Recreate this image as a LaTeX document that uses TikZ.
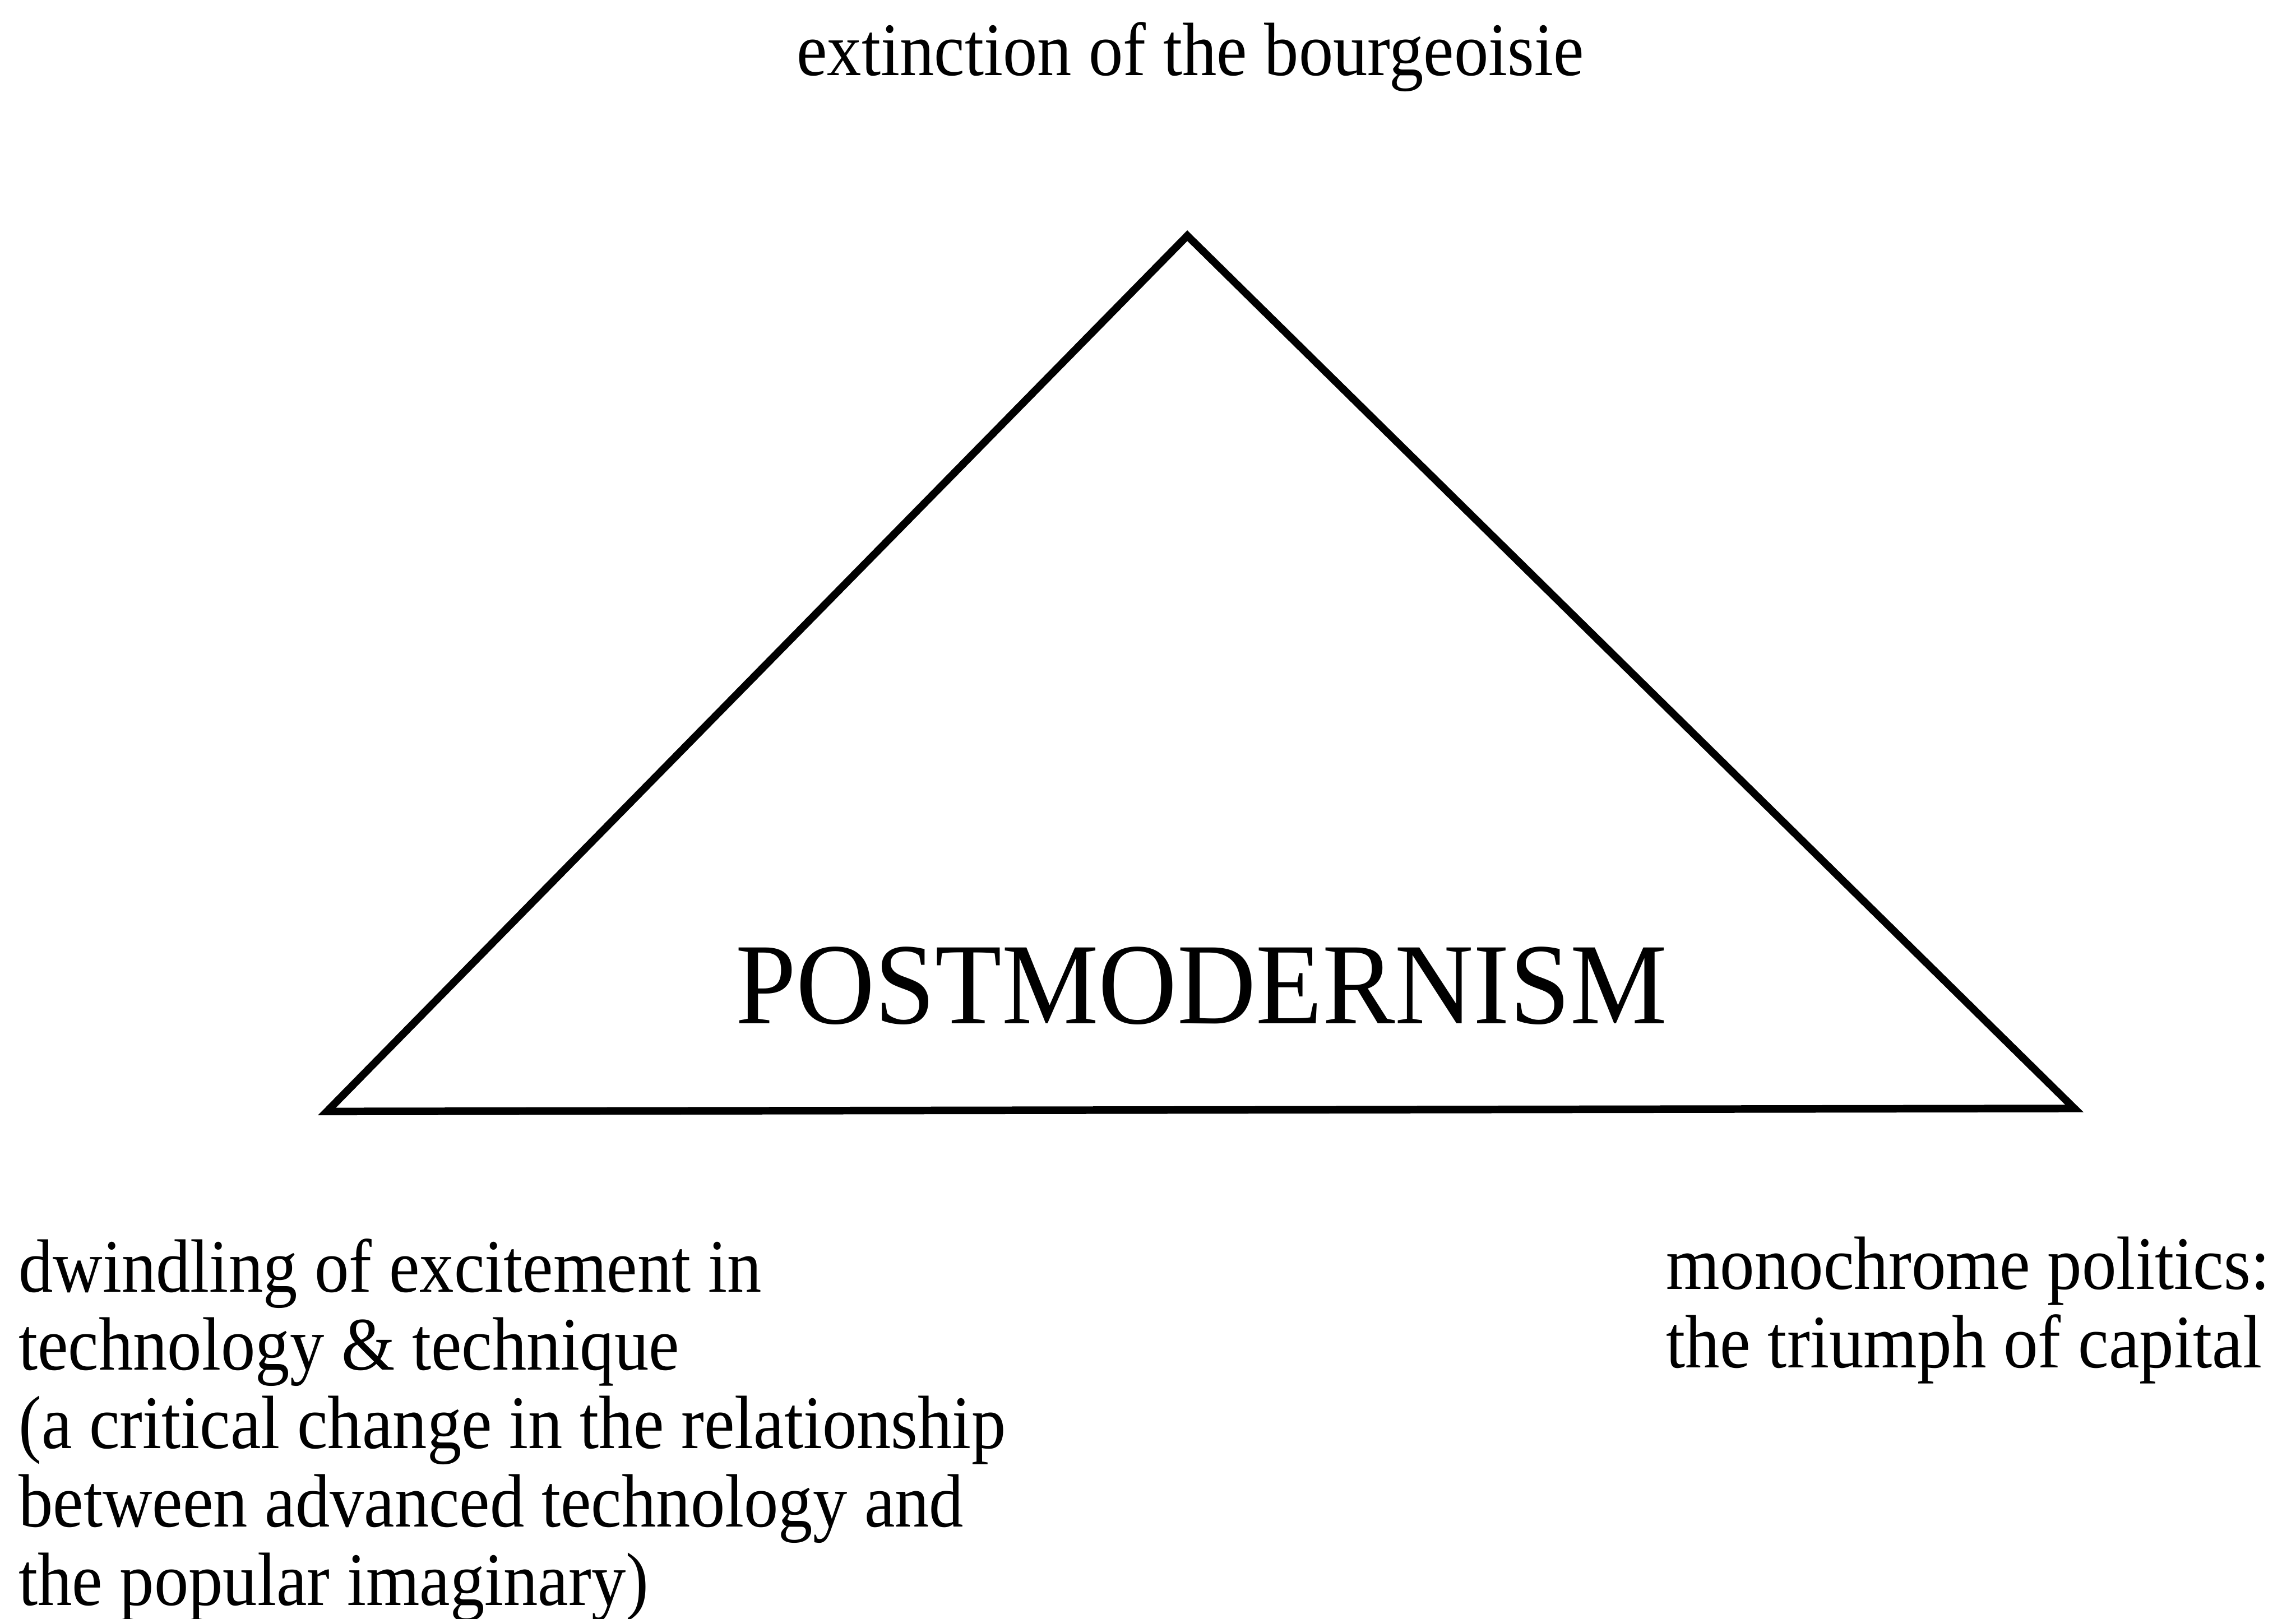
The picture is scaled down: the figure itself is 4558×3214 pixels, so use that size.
\documentclass[tikz,border=0pt]{standalone}
\usepackage{fontspec}
\setmainfont{Liberation Serif}
\begin{document}
\begin{tikzpicture}[x=0.1pt,y=-0.1pt,
  label text/.style={inner sep=0pt, outer sep=0pt, font=\fontsize{15}{15.55}\selectfont},
  title text/.style={inner sep=0pt, outer sep=0pt, font=\fontsize{23}{26}\selectfont},
  edge line/.style={line width=1.5pt, line join=miter}]
  % page frame
  \fill[white] (0,0) rectangle (4558,3214);
  \useasboundingbox (0,0) rectangle (4558,3214);

  % corners of the triangle
  \coordinate (apex) at (2357,468);
  \coordinate (left) at (649,2207);
  \coordinate (right) at (4118,2201);
  \draw[edge line] (apex) -- (right) -- (left) -- cycle;

  % labels
  \node[label text, anchor=base] (top) at (2363,150)
    {\scalebox{0.91}[1]{extinction of the bourgeoisie}};
  \node[title text, anchor=base] (centre) at (2385,2033)
    {\scalebox{0.94}[1]{POSTMODERNISM}};
  \node[label text, anchor=base west] (tech) at (37,2565)
    {\scalebox{0.91}[1]{\begin{tabular}[t]{@{}l@{}}
      dwindling of excitement in\\
      technology \& technique\\
      (a critical change in the relationship\\
      between advanced technology and\\
      the popular imaginary)
    \end{tabular}}};
  \node[label text, anchor=base west] (politics) at (3308,2560)
    {\scalebox{0.913}[1]{\begin{tabular}[t]{@{}l@{}}
      monochrome politics:\\
      the triumph of capital
    \end{tabular}}};
\end{tikzpicture}
\end{document}
